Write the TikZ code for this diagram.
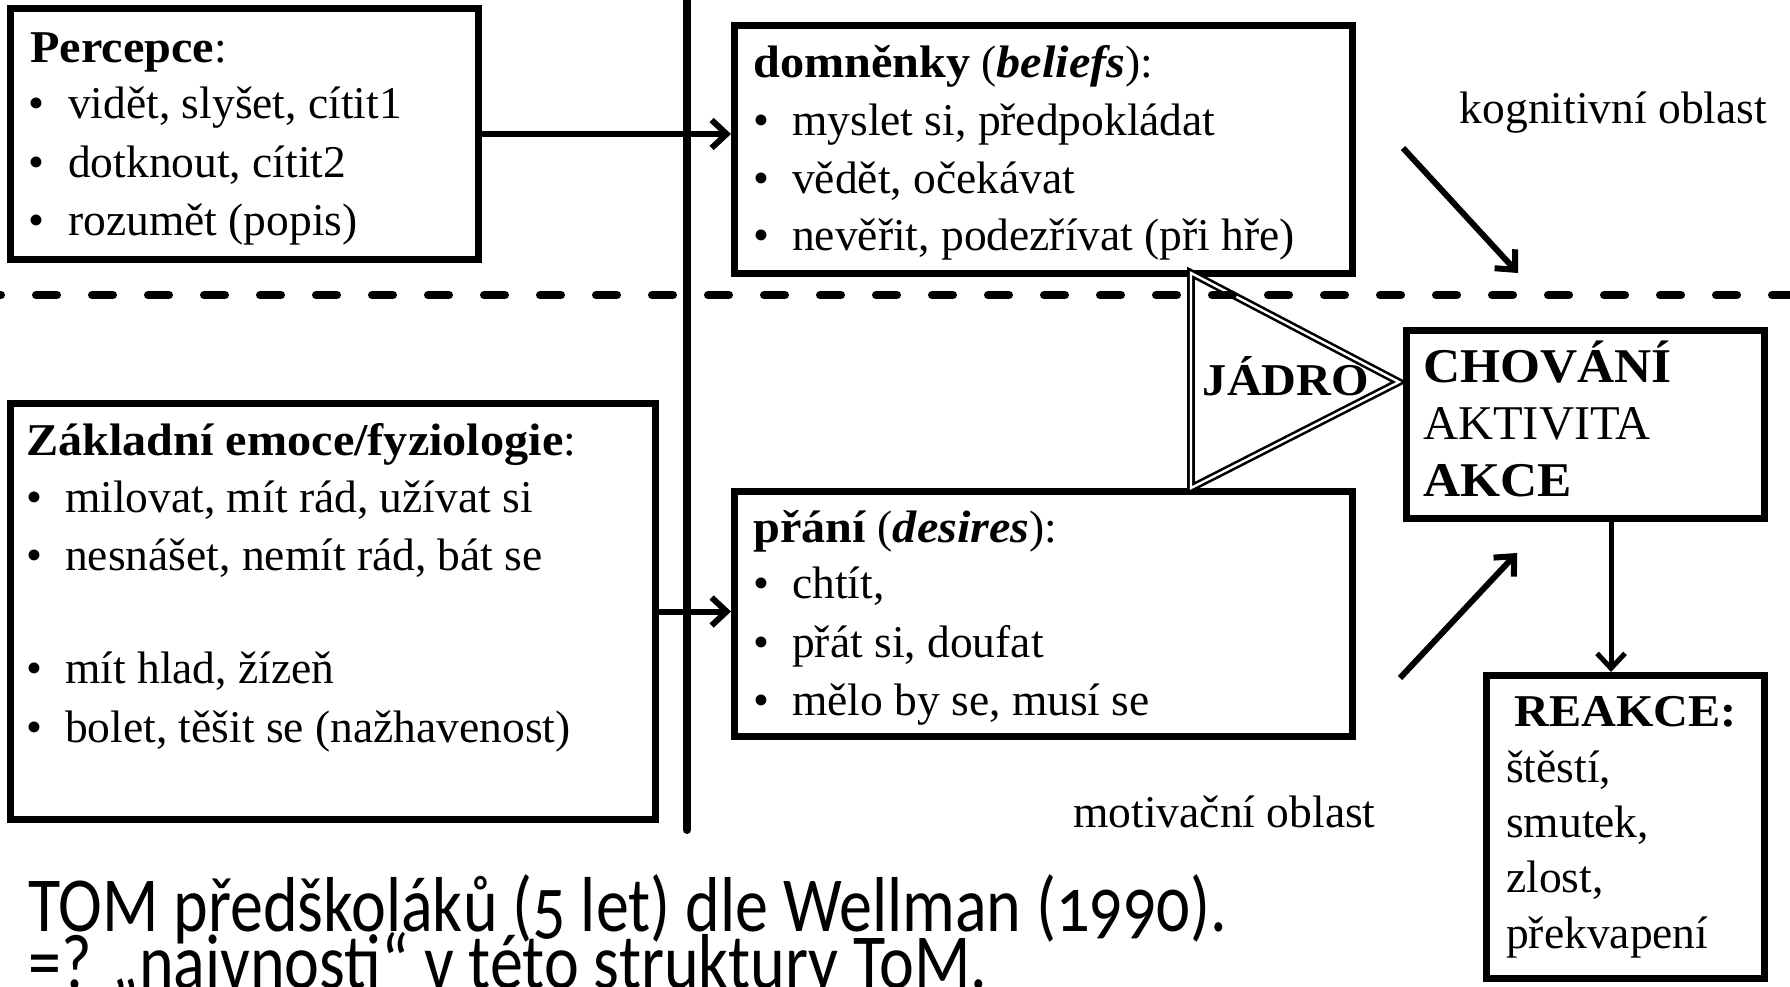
\documentclass[tikz,border=0pt]{standalone}
\usepackage{fontspec}
\setmainfont{Liberation Serif}[BoldFeatures={FakeStretch=1.06},BoldItalicFeatures={FakeStretch=1.06}]
\newfontfamily\sansf[Numbers=OldStyle]{Carlito}
\usetikzlibrary{arrows.meta}
\begin{document}
\begin{tikzpicture}[x=1pt,y=-1pt,
  box/.style={draw, line width=7pt, rectangle, inner sep=0pt},
  txt/.style={anchor=base west, inner sep=0pt, font=\fontsize{45.5}{53}\selectfont},
  ctxt/.style={anchor=base, inner sep=0pt, font=\fontsize{45.5}{53}\selectfont},
  bigtxt/.style={anchor=base west, inner sep=0pt, font=\fontsize{48.5}{56}\selectfont},
  captxt/.style={anchor=base west, inner sep=0pt, font=\sansf\fontsize{66}{66}\selectfont},
  conn/.style={line width=6pt, -{Straight Barb[length=15pt,width=28pt]}},
  thinconn/.style={line width=5pt, -{Straight Barb[length=15pt,width=28pt]}},
  divider/.style={line width=8pt, line cap=round},
  dashdiv/.style={line width=8pt, line cap=round, dash pattern=on 21pt off 35pt, dash phase=20pt},
  core/.style={line width=2.6pt, double=white, double distance=2.4pt, line join=miter}
]
\useasboundingbox[fill=white] (0,0) rectangle (1790,986);

% vertical divider
\coordinate (vtop) at (687,-10);
\coordinate (vbot) at (687,830);
\draw[divider] (vtop) -- (vbot);

% boxes
\node[box, minimum width=468pt, minimum height=251pt] (perc) at (244.5,134) {};
\node[box, minimum width=618pt, minimum height=248pt] (dom) at (1043.5,149.5) {};
\node[box, minimum width=645pt, minimum height=416pt] (zakl) at (333,611.5) {};
\node[box, minimum width=618pt, minimum height=245pt] (pran) at (1043.5,614) {};
\node[box, minimum width=358pt, minimum height=188pt] (chov) at (1585.5,424.5) {};
\node[box, minimum width=278pt, minimum height=303pt] (reak) at (1625.5,827) {};

% triangle (core)
\coordinate (t1) at (1191,273);
\coordinate (t2) at (1191,488);
\coordinate (t3) at (1399,382);
\draw[core] (t1) -- (t3) -- (t2) -- cycle;
\node[ctxt] (jadro) at (1286,395) {\textbf{JÁDRO}};

% dashed divider
\coordinate (dl) at (0,295);
\coordinate (dr) at (1800,295);
\draw[dashdiv] (dl) -- (dr);

% connectors
\draw[conn] (perc.east) -- (perc.east -| dom.west);
\draw[conn] (zakl.east) -- (zakl.east -| pran.west);
\coordinate (ca) at (1611,522);
\draw[thinconn] (ca) -- (ca |- reak.north);
\coordinate (k1) at (1403,148);
\coordinate (k2) at (1518,273);
\draw[conn] (k1) -- (k2);
\coordinate (m1) at (1400,678);
\coordinate (m2) at (1517,553);
\draw[conn] (m1) -- (m2);

% Percepce text
\node[txt] (p0) at (30,62) {\textbf{Percepce}:};
\node[txt] (pb1) at (28,118) {\textbullet};
\node[txt] (p1) at (68,118) {vidět, slyšet, cítit1};
\node[txt] (pb2) at (28,177) {\textbullet};
\node[txt] (p2) at (68,177) {dotknout, cítit2};
\node[txt] (pb3) at (28,235) {\textbullet};
\node[txt] (p3) at (68,235) {rozumět (popis)};

% domněnky text
\node[txt] (d0) at (753,77) {\textbf{domněnky} (\textbf{\textit{beliefs}}):};
\node[txt] (db1) at (753,135) {\textbullet};
\node[txt] (d1) at (792,135) {myslet si, předpokládat};
\node[txt] (db2) at (753,193) {\textbullet};
\node[txt] (d2) at (792,193) {vědět, očekávat};
\node[txt] (db3) at (753,250) {\textbullet};
\node[txt] (d3) at (792,250) {nevěřit, podezřívat (při hře)};

% Základní text
\node[txt] (z0) at (26,455) {\textbf{Základní emoce/fyziologie}:};
\node[txt] (zb1) at (26,512) {\textbullet};
\node[txt] (z1) at (65,512) {milovat, mít rád, užívat si};
\node[txt] (zb2) at (26,570) {\textbullet};
\node[txt] (z2) at (65,570) {nesnášet, nemít rád, bát se};
\node[txt] (zb3) at (26,683) {\textbullet};
\node[txt] (z3) at (65,683) {mít hlad, žízeň};
\node[txt] (zb4) at (26,742) {\textbullet};
\node[txt] (z4) at (65,742) {bolet, těšit se (nažhavenost)};

% přání text
\node[txt] (w0) at (753,542) {\textbf{přání} (\textbf{\textit{desires}}):};
\node[txt] (wb1) at (753,598) {\textbullet};
\node[txt] (w1) at (792,598) {chtít,};
\node[txt] (wb2) at (753,657) {\textbullet};
\node[txt] (w2) at (792,657) {přát si, doufat};
\node[txt] (wb3) at (753,715) {\textbullet};
\node[txt] (w3) at (792,715) {mělo by se, musí se};

% CHOVÁNÍ text
\node[bigtxt] (c1) at (1423,382) {\textbf{CHOVÁNÍ}};
\node[bigtxt] (c2) at (1423,439) {AKTIVITA};
\node[bigtxt] (c3) at (1423,496) {\textbf{AKCE}};

% REAKCE text
\node[ctxt] (r0) at (1625.5,726) {\textbf{REAKCE:}};
\node[txt] (r1) at (1506,782) {štěstí,};
\node[txt] (r2) at (1506,837) {smutek,};
\node[txt] (r3) at (1506,892) {zlost,};
\node[txt] (r4) at (1506,948) {překvapení};

% area labels
\node[ctxt] (kog) at (1613.5,123) {kognitivní oblast};
\node[ctxt] (mot) at (1224.5,827) {motivační oblast};

% bottom caption
\node[captxt] (tom1) at (28,931) {\scalebox{1}[1.18]{TOM předškoláků (5 let) dle Wellman (1990).}};
\node[captxt] (tom2) at (28,988) {\scalebox{1}[1.18]{=? „naivnosti“ v této struktury ToM.}};
\end{tikzpicture}
\end{document}
